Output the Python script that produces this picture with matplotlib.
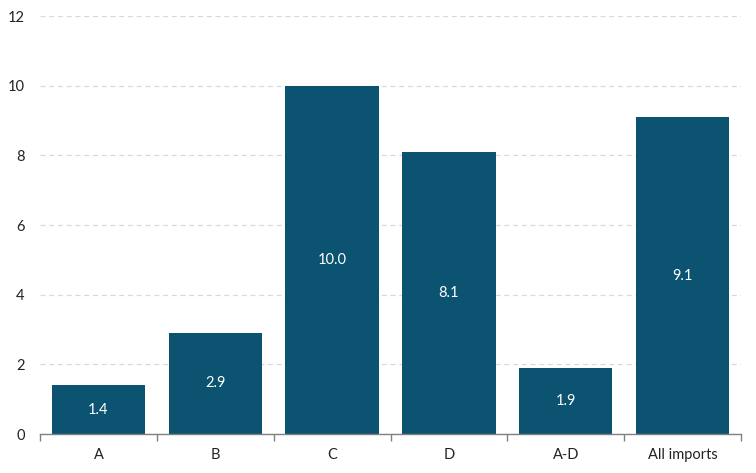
import matplotlib
matplotlib.use("Agg")
import matplotlib.pyplot as plt
import numpy as np

categories = ["A", "B", "C", "D", "A-D", "All imports"]
values = [1.4, 2.9, 10.0, 8.1, 1.9, 9.1]
yticks = [0, 2, 4, 6, 8, 10, 12]

plt.rcParams['font.family'] = ['Lato', 'DejaVu Sans']

fig = plt.figure(figsize=(7.56, 4.73), dpi=100)
ax = fig.add_axes([40/756, (473-434)/473, 701/756, 418/473])

x = np.arange(len(categories))
bars = ax.bar(x, values, width=0.8, color="#0b5370", zorder=3)
for xi, v in zip(x, values):
    ax.text(xi, v/2, f"{v:.1f}", ha="center", va="center", color="white", fontsize=10.5, zorder=4)

ax.set_xlim(-0.5, len(categories)-0.5)
ax.set_ylim(0, 12)
ax.set_yticks(yticks)
ax.set_yticklabels([str(t) for t in yticks], fontsize=10.5, color="#222222")
ax.yaxis.grid(True, linestyle=(0, (4, 3)), color="#d9d9d9", linewidth=0.9, zorder=0)
ax.tick_params(axis="y", length=0, pad=11)

ax.set_xticks(np.arange(-0.5, len(categories), 1.0), minor=False)
ax.set_xticklabels([])
ax.tick_params(axis="x", which="major", length=5, color="#808080", width=1, direction="out")
ax.set_xticks(x, minor=True)
ax.set_xticklabels(categories, minor=True, fontsize=10.5, color="#222222")
ax.tick_params(axis="x", which="minor", length=0, pad=10)

for s in ["top", "right", "left"]:
    ax.spines[s].set_visible(False)
ax.spines["bottom"].set_color("#808080")
ax.spines["bottom"].set_linewidth(1)
ax.spines["bottom"].set_zorder(5)

fig.savefig("out.png", dpi=100)
